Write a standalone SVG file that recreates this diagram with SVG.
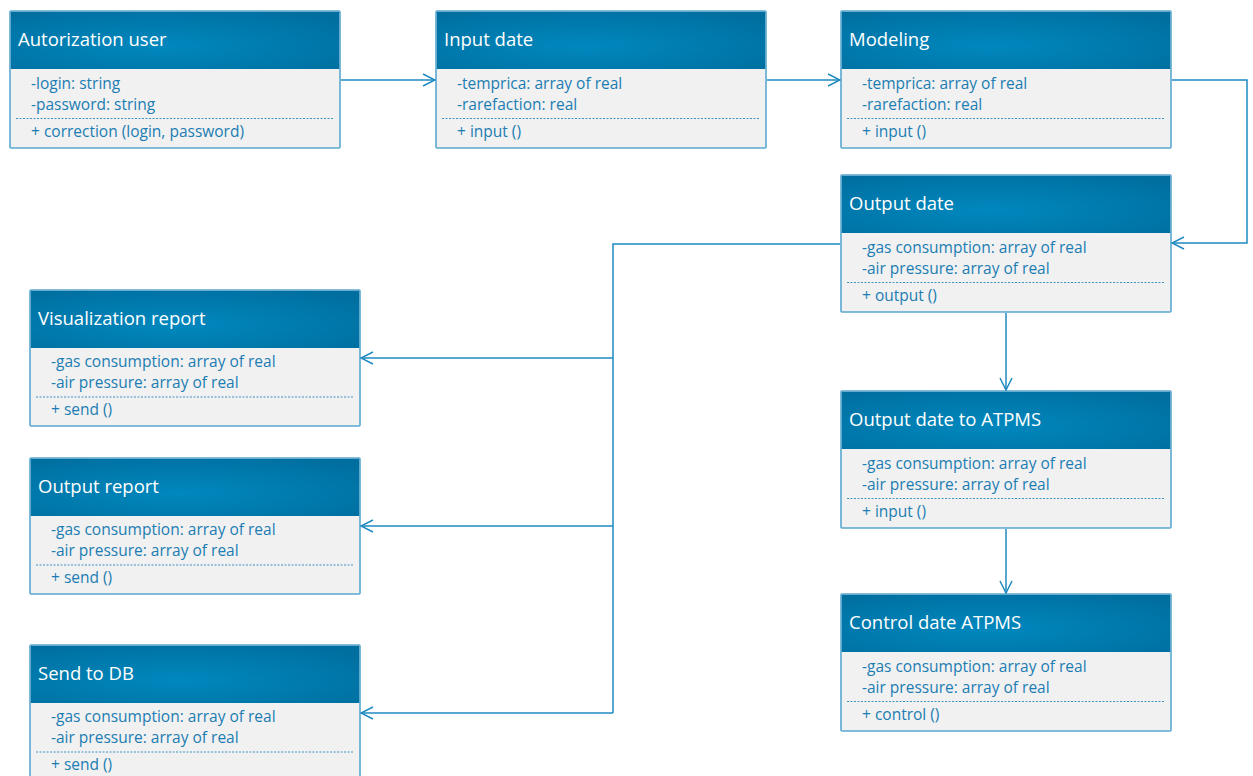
<svg xmlns="http://www.w3.org/2000/svg" width="1253" height="776" viewBox="0 0 1253 776">
  <defs>
    <radialGradient id="hdr" cx="0.45" cy="0.6" r="0.7" fx="0.45" fy="0.6">
      <stop offset="0" stop-color="#0088be"/>
      <stop offset="1" stop-color="#006fa0"/>
    </radialGradient>
    <marker id="open" viewBox="0 0 14 14" refX="13" refY="7" markerWidth="14" markerHeight="14" markerUnits="userSpaceOnUse" orient="auto">
      <path d="M1,1 L13,7 L1,13" fill="none" stroke="#1f8ac0" stroke-width="1.5"/>
    </marker>
  </defs>
  <style>
    .body { fill: #f1f1f1; stroke: #5aa8d0; stroke-width: 1.6; }
    .head { fill: url(#hdr); }
    .sep { stroke: #3b94c4; stroke-width: 1; stroke-dasharray: 2 1.5; }
    .title { font-family: "Open Sans", "Noto Sans", sans-serif; font-size: 18.5px; fill: #ffffff; }
    .field { font-family: "Open Sans", "Noto Sans", sans-serif; font-size: 15.5px; fill: #1b7db3; }
    .wire { fill: none; stroke: #1f8ac0; stroke-width: 1.5; }
  </style>
  <rect width="1253" height="776" fill="#ffffff"/>

  <!-- class boxes: 330 x 137, header 58 -->
  <g id="autorization-user" transform="translate(10,11)">
    <rect class="body" x="0" y="0" width="330" height="137" rx="1"/>
    <rect class="head" x="0.8" y="0.8" width="328.4" height="57.2"/>
    <text class="title" x="8" y="35">Autorization user</text>
    <text class="field" x="21" y="78">-login: string</text>
    <text class="field" x="21" y="99">-password: string</text>
    <line class="sep" x1="6" y1="107.5" x2="324" y2="107.5"/>
    <text class="field" x="21" y="126">+ correction (login, password)</text>
  </g>

  <g id="input-date" transform="translate(436,11)">
    <rect class="body" x="0" y="0" width="330" height="137" rx="1"/>
    <rect class="head" x="0.8" y="0.8" width="328.4" height="57.2"/>
    <text class="title" x="8" y="35">Input date</text>
    <text class="field" x="21" y="78">-temprica: array of real</text>
    <text class="field" x="21" y="99">-rarefaction: real</text>
    <line class="sep" x1="6" y1="107.5" x2="324" y2="107.5"/>
    <text class="field" x="21" y="126">+ input ()</text>
  </g>

  <g id="modeling" transform="translate(841,11)">
    <rect class="body" x="0" y="0" width="330" height="137" rx="1"/>
    <rect class="head" x="0.8" y="0.8" width="328.4" height="57.2"/>
    <text class="title" x="8" y="35">Modeling</text>
    <text class="field" x="21" y="78">-temprica: array of real</text>
    <text class="field" x="21" y="99">-rarefaction: real</text>
    <line class="sep" x1="6" y1="107.5" x2="324" y2="107.5"/>
    <text class="field" x="21" y="126">+ input ()</text>
  </g>

  <g id="output-date" transform="translate(841,175)">
    <rect class="body" x="0" y="0" width="330" height="137" rx="1"/>
    <rect class="head" x="0.8" y="0.8" width="328.4" height="57.2"/>
    <text class="title" x="8" y="35">Output date</text>
    <text class="field" x="21" y="78">-gas consumption: array of real</text>
    <text class="field" x="21" y="99">-air pressure: array of real</text>
    <line class="sep" x1="6" y1="107.5" x2="324" y2="107.5"/>
    <text class="field" x="21" y="126">+ output ()</text>
  </g>

  <g id="output-date-atpms" transform="translate(841,391)">
    <rect class="body" x="0" y="0" width="330" height="137" rx="1"/>
    <rect class="head" x="0.8" y="0.8" width="328.4" height="57.2"/>
    <text class="title" x="8" y="35">Output date to ATPMS</text>
    <text class="field" x="21" y="78">-gas consumption: array of real</text>
    <text class="field" x="21" y="99">-air pressure: array of real</text>
    <line class="sep" x1="6" y1="107.5" x2="324" y2="107.5"/>
    <text class="field" x="21" y="126">+ input ()</text>
  </g>

  <g id="control-date-atpms" transform="translate(841,594)">
    <rect class="body" x="0" y="0" width="330" height="137" rx="1"/>
    <rect class="head" x="0.8" y="0.8" width="328.4" height="57.2"/>
    <text class="title" x="8" y="35">Control date ATPMS</text>
    <text class="field" x="21" y="78">-gas consumption: array of real</text>
    <text class="field" x="21" y="99">-air pressure: array of real</text>
    <line class="sep" x1="6" y1="107.5" x2="324" y2="107.5"/>
    <text class="field" x="21" y="126">+ control ()</text>
  </g>

  <g id="visualization-report" transform="translate(30,290)">
    <rect class="body" x="0" y="0" width="330" height="136" rx="1"/>
    <rect class="head" x="0.8" y="0.8" width="328.4" height="57.2"/>
    <text class="title" x="8" y="35">Visualization report</text>
    <text class="field" x="21" y="77">-gas consumption: array of real</text>
    <text class="field" x="21" y="98">-air pressure: array of real</text>
    <line class="sep" x1="6" y1="107" x2="324" y2="107"/>
    <text class="field" x="21" y="125">+ send ()</text>
  </g>

  <g id="output-report" transform="translate(30,458)">
    <rect class="body" x="0" y="0" width="330" height="136" rx="1"/>
    <rect class="head" x="0.8" y="0.8" width="328.4" height="57.2"/>
    <text class="title" x="8" y="35">Output report</text>
    <text class="field" x="21" y="77">-gas consumption: array of real</text>
    <text class="field" x="21" y="98">-air pressure: array of real</text>
    <line class="sep" x1="6" y1="107" x2="324" y2="107"/>
    <text class="field" x="21" y="125">+ send ()</text>
  </g>

  <g id="send-to-db" transform="translate(30,645)">
    <rect class="body" x="0" y="0" width="330" height="136" rx="1"/>
    <rect class="head" x="0.8" y="0.8" width="328.4" height="57.2"/>
    <text class="title" x="8" y="35">Send to DB</text>
    <text class="field" x="21" y="77">-gas consumption: array of real</text>
    <text class="field" x="21" y="98">-air pressure: array of real</text>
    <line class="sep" x1="6" y1="107" x2="324" y2="107"/>
    <text class="field" x="21" y="125">+ send ()</text>
  </g>

  <!-- connectors -->
  <g id="connectors">
    <path class="wire" d="M341,80 H435" marker-end="url(#open)"/>
    <path class="wire" d="M767,80 H840" marker-end="url(#open)"/>
    <path class="wire" d="M1172,80 H1247 V243 H1172" marker-end="url(#open)"/>
    <path class="wire" d="M840,244 H613 V713"/>
    <path class="wire" d="M613,358 H361" marker-end="url(#open)"/>
    <path class="wire" d="M613,526 H361" marker-end="url(#open)"/>
    <path class="wire" d="M613,713 H361" marker-end="url(#open)"/>
    <path class="wire" d="M1006,313 V390" marker-end="url(#open)"/>
    <path class="wire" d="M1006,529 V593" marker-end="url(#open)"/>
  </g>
</svg>
